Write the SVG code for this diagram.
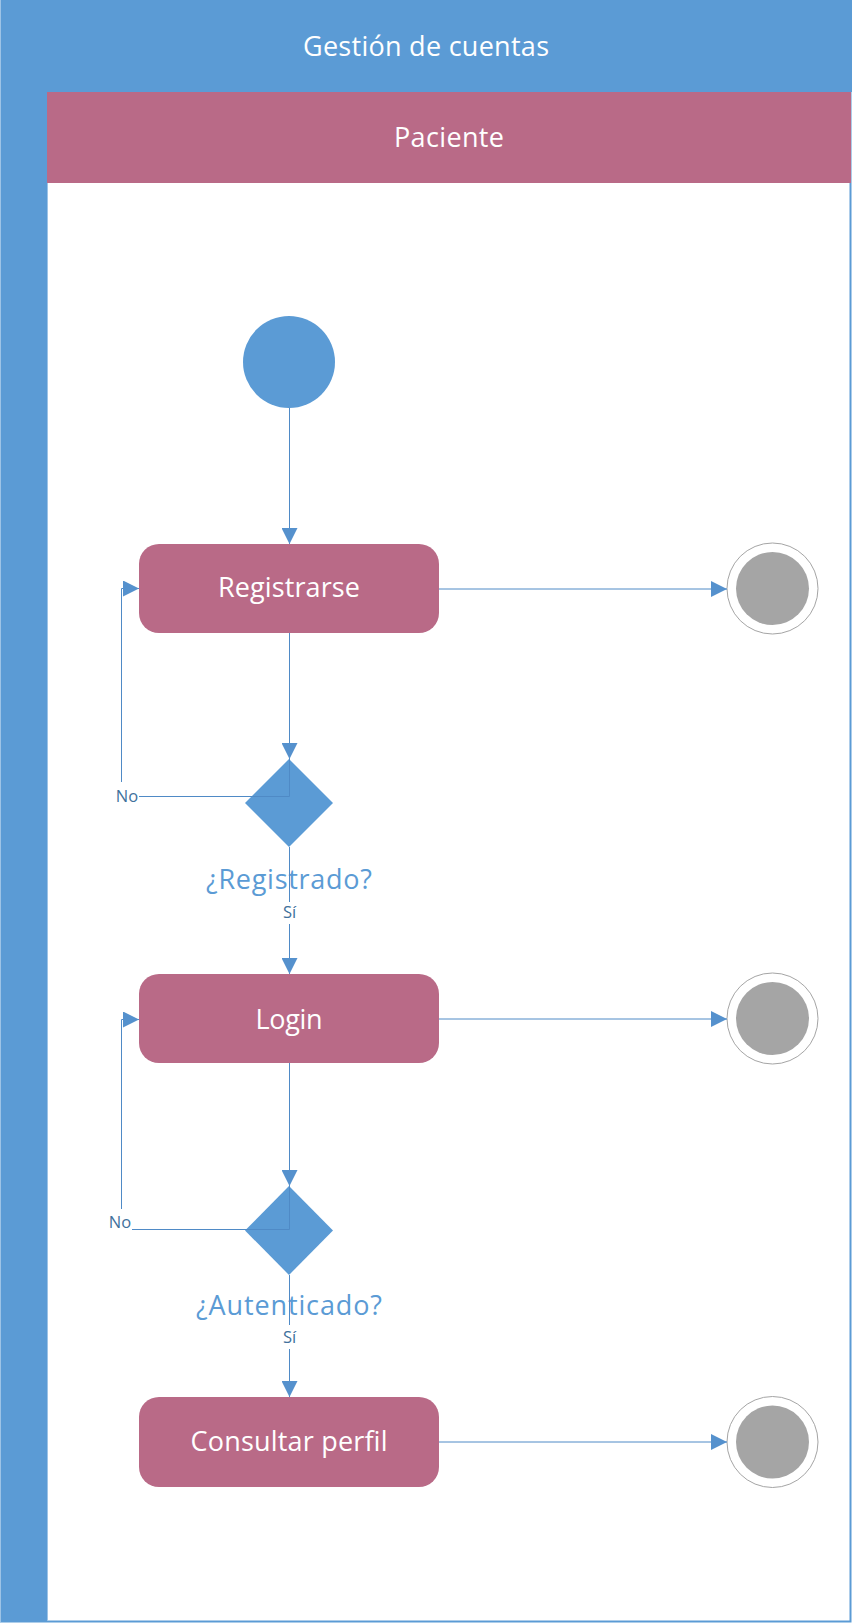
<svg xmlns="http://www.w3.org/2000/svg" width="852" height="1623" viewBox="0 0 852 1623">
  <style>
    .lane-title { font-family: "Open Sans", "Liberation Sans", sans-serif; font-size: 27px; fill: #FFFFFF; text-anchor: middle; }
    .act { fill: #B96A87; }
    .act-text { font-family: "Open Sans", "Liberation Sans", sans-serif; font-size: 27px; fill: #FFFFFF; text-anchor: middle; }
    .dec { fill: #5B9BD5; }
    .dec-text { font-family: "Open Sans", "Liberation Sans", sans-serif; font-size: 27px; fill: #5B9BD5; text-anchor: middle; }
    .edge { fill: none; stroke: #4F8AC6; stroke-width: 1; }
    .edge-label { font-family: "Open Sans", "Liberation Sans", sans-serif; font-size: 16.5px; fill: #41719C; text-anchor: middle; }
    .end-outer { fill: #FFFFFF; stroke: #A5A5A5; stroke-width: 1; }
    .end-inner { fill: #A5A5A5; }
  </style>
  <defs>
    <marker id="arrow" viewBox="0 0 16 16" refX="16" refY="8" markerWidth="16" markerHeight="16" markerUnits="userSpaceOnUse" orient="auto">
      <path d="M0,0 L16,8 L0,16 z" fill="#5591CD"/>
    </marker>
  </defs>

  <g id="pool">
    <rect x="0.5" y="0.5" width="850" height="1621" fill="#FFFFFF" stroke="#5B9BD5" stroke-width="2"/>
    <rect x="0" y="0" width="852" height="92" fill="#5B9BD5"/>
    <rect x="0" y="0" width="47" height="1622" fill="#5B9BD5"/>
    <line x1="0.5" y1="0" x2="0.5" y2="1622" stroke="#9DC3E6" stroke-width="1"/>
    <text class="lane-title" x="426" y="56" textLength="246">Gestión de cuentas</text>
  </g>

  <g id="lane-paciente">
    <rect x="47" y="92" width="804" height="91" fill="#B96A87"/>
    <line x1="47.5" y1="183" x2="47.5" y2="1621" stroke="#9DC3E6" stroke-width="1"/>
    <text class="lane-title" x="449" y="147" textLength="110">Paciente</text>
  </g>

  <g id="start">
    <circle cx="289" cy="362" r="46" fill="#5B9BD5"/>
  </g>

  <g id="registrarse">
    <rect class="act" x="139" y="544" width="300" height="89" rx="20" ry="20"/>
    <text class="act-text" x="289" y="597" textLength="142">Registrarse</text>
  </g>

  <g id="decision-registrado">
    <polygon class="dec" points="289,759 333,803 289,847 245,803"/>
    <text class="dec-text" x="289" y="889" textLength="166">¿Registrado?</text>
  </g>

  <g id="login">
    <rect class="act" x="139" y="974" width="300" height="89" rx="20" ry="20"/>
    <text class="act-text" x="289" y="1029" textLength="67">Login</text>
  </g>

  <g id="decision-autenticado">
    <polygon class="dec" points="289,1186 333,1230.5 289,1275 245,1230.5"/>
    <text class="dec-text" x="289" y="1315" textLength="186">¿Autenticado?</text>
  </g>

  <g id="consultar-perfil">
    <rect class="act" x="139" y="1397" width="300" height="90" rx="20" ry="20"/>
    <text class="act-text" x="289" y="1451" textLength="197">Consultar perfil</text>
  </g>

  <g id="end-1">
    <circle class="end-outer" cx="772.5" cy="588.5" r="45.5"/>
    <circle class="end-inner" cx="772.5" cy="588.5" r="36.5"/>
  </g>
  <g id="end-2">
    <circle class="end-outer" cx="772.5" cy="1018.5" r="45.5"/>
    <circle class="end-inner" cx="772.5" cy="1018.5" r="36.5"/>
  </g>
  <g id="end-3">
    <circle class="end-outer" cx="772.5" cy="1442" r="45.5"/>
    <circle class="end-inner" cx="772.5" cy="1442" r="36.5"/>
  </g>

  <g id="connectors">
    <path class="edge" d="M289.5 408 V544" marker-end="url(#arrow)"/>
    <path class="edge" d="M289.5 633 V759" marker-end="url(#arrow)"/>
    <path class="edge" d="M289.5 847 V974" marker-end="url(#arrow)"/>
    <path class="edge" d="M289.5 759 V796.5 H121.5 V588.5 H139" marker-end="url(#arrow)"/>
    <path class="edge" d="M439 589 H727" marker-end="url(#arrow)"/>
    <path class="edge" d="M289.5 1063 V1186" marker-end="url(#arrow)"/>
    <path class="edge" d="M289.5 1275 V1397" marker-end="url(#arrow)"/>
    <path class="edge" d="M289.5 1186 V1229.5 H121.5 V1019.5 H139" marker-end="url(#arrow)"/>
    <path class="edge" d="M439 1019 H727" marker-end="url(#arrow)"/>
    <path class="edge" d="M439 1442 H727" marker-end="url(#arrow)"/>

    <rect x="281" y="902" width="17" height="22" fill="#FFFFFF"/>
    <text class="edge-label" x="289.5" y="918">Sí</text>
    <rect x="281" y="1325" width="17" height="24" fill="#FFFFFF"/>
    <text class="edge-label" x="289.5" y="1343">Sí</text>
    <rect x="115" y="782" width="24" height="21" fill="#FFFFFF"/>
    <text class="edge-label" x="127" y="801.5">No</text>
    <rect x="107" y="1209" width="25" height="22" fill="#FFFFFF"/>
    <text class="edge-label" x="120" y="1228">No</text>
  </g>
</svg>
